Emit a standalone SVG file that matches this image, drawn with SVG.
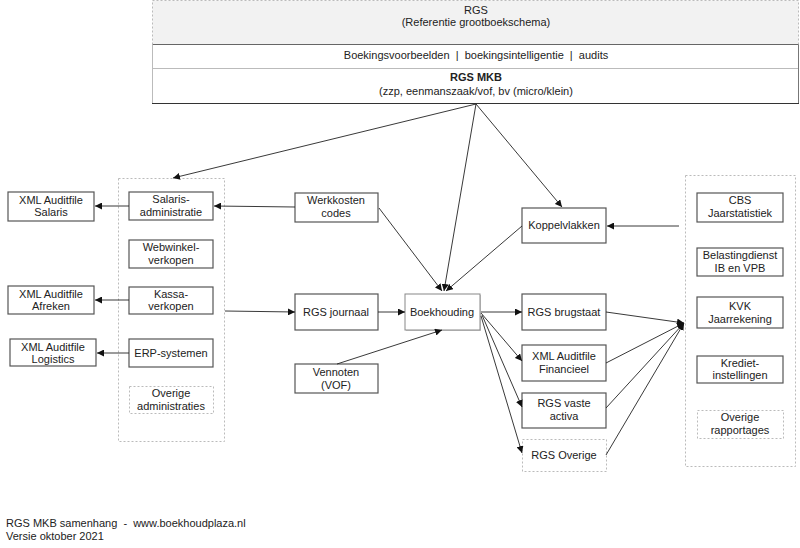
<svg xmlns="http://www.w3.org/2000/svg" width="800" height="548" viewBox="0 0 800 548">
<style>
text{font-family:"Liberation Sans",Arial,sans-serif;font-size:11px;fill:#222;text-anchor:middle}
.b{fill:#fff;stroke:#555;stroke-width:1.2}
.d{fill:#fff;stroke:#bbb;stroke-width:1;stroke-dasharray:2,2}
.c{fill:none;stroke:#bbb;stroke-width:1;stroke-dasharray:2,2}
.l{fill:none;stroke:#222;stroke-width:0.9}
</style>
<defs>
<marker id="a" viewBox="0 0 10 10" refX="10" refY="5" markerWidth="7" markerHeight="7" markerUnits="userSpaceOnUse" orient="auto"><path d="M0,0L10,5L0,10z" fill="#111"/></marker>
</defs>
<rect width="800" height="548" fill="#fff"/>
<g id="rgs">
<rect x="152.5" y="0.5" width="646" height="44" fill="#f2f2f2" stroke="#bbb" stroke-dasharray="2,2"/>
<rect x="152.5" y="44.5" width="646" height="58.5" fill="#fff" stroke="none"/>
<line x1="152.5" y1="44.5" x2="798.5" y2="44.5" stroke="#666"/>
<line x1="152.5" y1="68.5" x2="798.5" y2="68.5" stroke="#bbb"/>
<line x1="152.5" y1="44.5" x2="152.5" y2="103" stroke="#bbb"/>
<line x1="798.5" y1="44.5" x2="798.5" y2="103" stroke="#777"/>
<line x1="152" y1="103.5" x2="799" y2="103.5" stroke="#333"/>
<text x="476" y="14">RGS</text>
<text x="476" y="26">(Referentie grootboekschema)</text>
<text x="476" y="59" xml:space="preserve">Boekingsvoorbeelden  |  boekingsintelligentie  |  audits</text>
<text x="476" y="81" font-weight="bold">RGS MKB</text>
<text x="476" y="95">(zzp, eenmanszaak/vof, bv (micro/klein)</text>
</g>
<g id="left-container"><rect class="c" x="118.5" y="178.5" width="106" height="263"/></g>
<g id="xml-salaris"><rect class="b" x="8" y="192" width="86" height="29"/><text x="51" y="204">XML Auditfile</text><text x="51" y="216">Salaris</text></g>
<g id="xml-afreken"><rect class="b" x="8" y="286" width="86" height="28"/><text x="51" y="298">XML Auditfile</text><text x="51" y="310">Afreken</text></g>
<g id="xml-logistics"><rect class="b" x="10" y="339" width="86" height="27"/><text x="53" y="351">XML Auditfile</text><text x="53" y="363">Logistics</text></g>
<g id="salaris"><rect class="b" x="129" y="192" width="84" height="28"/><text x="171" y="203">Salaris-</text><text x="171" y="216">administratie</text></g>
<g id="webwinkel"><rect class="b" x="129" y="240" width="84" height="28"/><text x="171" y="251">Webwinkel-</text><text x="171" y="264">verkopen</text></g>
<g id="kassa"><rect class="b" x="129" y="287" width="84" height="27"/><text x="171" y="298">Kassa-</text><text x="171" y="310">verkopen</text></g>
<g id="erp"><rect class="b" x="129" y="339" width="84" height="28"/><text x="171" y="357">ERP-systemen</text></g>
<g id="overige-adm"><rect class="d" x="129.5" y="386.5" width="84" height="27"/><text x="171" y="397">Overige</text><text x="171" y="410">administraties</text></g>
<g id="werkkosten"><rect class="b" x="295" y="193" width="83" height="29"/><text x="336" y="204">Werkkosten</text><text x="336" y="217">codes</text></g>
<g id="journaal"><rect class="b" x="295" y="294" width="83" height="36"/><text x="336" y="316">RGS journaal</text></g>
<g id="boekhouding"><rect x="406" y="295" width="75" height="36" fill="#ccc" stroke="none"/><rect x="405" y="294" width="75" height="36" fill="#fff" stroke="#888"/><text x="442" y="316">Boekhouding</text></g>
<g id="vennoten"><rect class="b" x="295" y="364" width="83" height="29"/><text x="336" y="376">Vennoten</text><text x="336" y="389">(VOF)</text></g>
<g id="koppelvlakken"><rect class="b" x="522" y="208" width="84" height="35"/><text x="564" y="229">Koppelvlakken</text></g>
<g id="brugstaat"><rect class="b" x="522" y="294" width="84" height="36"/><text x="564" y="316">RGS brugstaat</text></g>
<g id="xml-financieel"><rect class="b" x="522" y="345" width="84" height="36"/><text x="564" y="360">XML Auditfile</text><text x="564" y="373">Financieel</text></g>
<g id="vaste-activa"><rect class="b" x="522" y="393" width="84" height="35"/><text x="564" y="407">RGS vaste</text><text x="564" y="420">activa</text></g>
<g id="rgs-overige"><rect class="d" x="522.5" y="439.5" width="84" height="32"/><text x="564" y="459">RGS Overige</text></g>
<g id="right-container"><rect class="c" x="685.5" y="175.5" width="110" height="291"/></g>
<g id="cbs"><rect class="b" x="697" y="193" width="86" height="29"/><text x="740" y="204">CBS</text><text x="740" y="217">Jaarstatistiek</text></g>
<g id="belasting"><rect class="b" x="697" y="248" width="86" height="28"/><text x="740" y="259">Belastingdienst</text><text x="740" y="272">IB en VPB</text></g>
<g id="kvk"><rect class="b" x="697" y="297" width="86" height="31"/><text x="740" y="310">KVK</text><text x="740" y="323">Jaarrekening</text></g>
<g id="krediet"><rect class="b" x="697" y="356" width="86" height="27"/><text x="740" y="367">Krediet-</text><text x="740" y="379">instellingen</text></g>
<g id="overige-rap"><rect class="d" x="697.5" y="410.5" width="86" height="28"/><text x="740" y="421">Overige</text><text x="740" y="434">rapportages</text></g>
<g id="connectors">
<line class="l" x1="476" y1="104" x2="173" y2="178" marker-end="url(#a)"/>
<line class="l" x1="476" y1="104" x2="444" y2="291" marker-end="url(#a)"/>
<line class="l" x1="476" y1="104" x2="562" y2="207" marker-end="url(#a)"/>
<line class="l" x1="379" y1="208" x2="442" y2="291" marker-end="url(#a)"/>
<line class="l" x1="522" y1="226" x2="446" y2="291" marker-end="url(#a)"/>
<line class="l" x1="129" y1="206" x2="95" y2="206" marker-end="url(#a)"/>
<line class="l" x1="129" y1="300" x2="95" y2="300" marker-end="url(#a)" stroke="#777"/>
<line class="l" x1="129" y1="353" x2="97" y2="353" marker-end="url(#a)" stroke="#777"/>
<line class="l" x1="295" y1="207" x2="214" y2="206" marker-end="url(#a)"/>
<line class="l" x1="225" y1="311" x2="295" y2="312" marker-end="url(#a)"/>
<line class="l" x1="378" y1="312" x2="405" y2="312" marker-end="url(#a)"/>
<line class="l" x1="337" y1="364" x2="442" y2="330" marker-end="url(#a)"/>
<line class="l" x1="679" y1="226" x2="607" y2="226" marker-end="url(#a)"/>
<line class="l" x1="481" y1="312" x2="522" y2="312" marker-end="url(#a)"/>
<line class="l" x1="481" y1="313" x2="522" y2="361" marker-end="url(#a)"/>
<line class="l" x1="482" y1="315" x2="522" y2="407" marker-end="url(#a)"/>
<line class="l" x1="481" y1="316" x2="522" y2="453" marker-end="url(#a)"/>
<line class="l" x1="606" y1="312" x2="684" y2="323" marker-end="url(#a)"/>
<line class="l" x1="606" y1="363" x2="684" y2="323" marker-end="url(#a)"/>
<line class="l" x1="606" y1="408" x2="684" y2="323" marker-end="url(#a)"/>
<line class="l" x1="606" y1="455" x2="684" y2="323" marker-end="url(#a)"/>
</g>
<g id="footer">
<text x="6" y="527" style="text-anchor:start" xml:space="preserve">RGS MKB samenhang  -  www.boekhoudplaza.nl</text>
<text x="6" y="540" style="text-anchor:start">Versie oktober 2021</text>
</g>
</svg>
